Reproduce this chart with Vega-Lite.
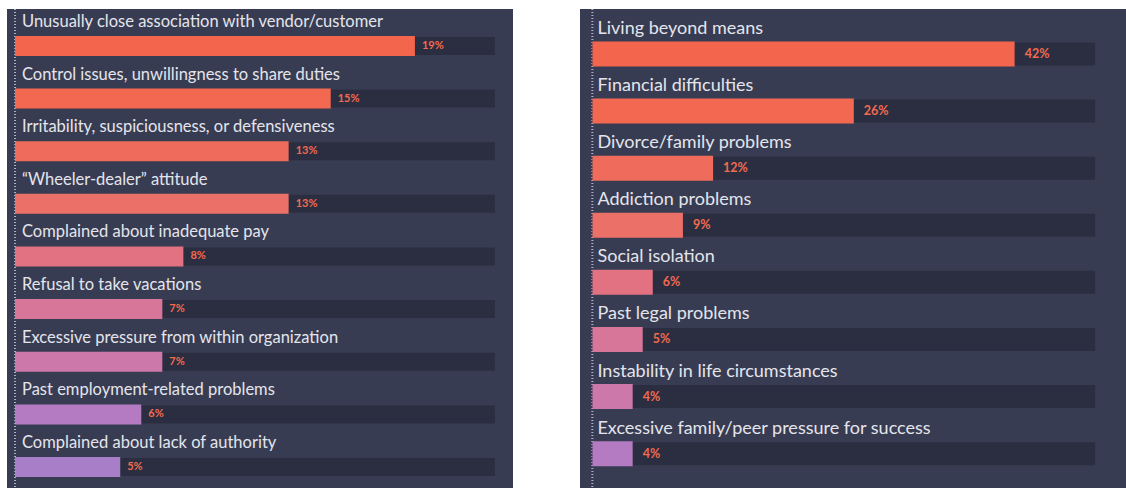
{
  "$schema": "https://vega.github.io/schema/vega-lite/v6.json",
  "background": "#ffffff",
  "padding": {"left": 7, "top": 8, "right": 0, "bottom": 0},
  "spacing": 67,
  "bounds": "flush",
  "config": {"view": {"stroke": null}, "axis": {"disable": true}},
  "hconcat": [
    {
      "width": 506,
      "height": 480,
      "view": {"fill": "#383c52", "stroke": null},
      "data": {"values": [
        {"label": "Unusually close association with vendor/customer", "value": 0.19},
        {"label": "Control issues, unwillingness to share duties", "value": 0.15},
        {"label": "Irritability, suspiciousness, or defensiveness", "value": 0.13},
        {"label": "\u201cWheeler-dealer\u201d attitude", "value": 0.13},
        {"label": "Complained about inadequate pay", "value": 0.08},
        {"label": "Refusal to take vacations", "value": 0.07},
        {"label": "Excessive pressure from within organization", "value": 0.07},
        {"label": "Past employment-related problems", "value": 0.06},
        {"label": "Complained about lack of authority", "value": 0.05}
      ]},
      "layer": [
        {"mark": {"type": "rule", "color": "#aab0c8", "strokeDash": [1, 2], "strokeWidth": 1.2},
         "encoding": {"x": {"datum": 0, "type": "quantitative", "scale": {"domain": [-0.0038, 0.2366], "nice": false, "zero": false}}}},
        {"mark": {"type": "bar", "height": 18, "color": "#2b2e40"},
         "encoding": {
           "y": {"field": "label", "type": "nominal", "sort": null, "axis": null, "scale": {"type": "point", "padding": 0.56, "align": 0.627}},
           "x": {"datum": 0.228, "type": "quantitative"}, "x2": {"datum": 0}}},
        {"mark": {"type": "bar", "height": 20},
         "encoding": {
           "y": {"field": "label", "type": "nominal", "sort": null, "axis": null},
           "x": {"field": "value", "type": "quantitative"},
           "x2": {"datum": 0},
           "color": {"field": "label", "type": "nominal", "legend": null,
             "scale": {"domain": ["Unusually close association with vendor/customer", "Control issues, unwillingness to share duties", "Irritability, suspiciousness, or defensiveness", "\u201cWheeler-dealer\u201d attitude", "Complained about inadequate pay", "Refusal to take vacations", "Excessive pressure from within organization", "Past employment-related problems", "Complained about lack of authority"],
                       "range": ["#f3654d", "#f26850", "#ef6c5c", "#eb7068", "#e27282", "#d8769a", "#cc78aa", "#b57bc2", "#a97ec9"]}}
         }},
        {"mark": {"type": "text", "align": "left", "baseline": "alphabetic", "dx": 7, "dy": -19, "font": "Lato", "fontSize": 16.5, "color": "#e4e5ec"},
         "encoding": {
           "y": {"field": "label", "type": "nominal", "sort": null, "axis": null},
           "x": {"datum": 0, "type": "quantitative"}, "text": {"field": "label"}}},
        {"mark": {"type": "text", "align": "left", "baseline": "middle", "dx": 7, "font": "Lato", "fontSize": 11, "fontWeight": "bold", "color": "#f26a4f"},
         "encoding": {
           "y": {"field": "label", "type": "nominal", "sort": null, "axis": null},
           "x": {"field": "value", "type": "quantitative"}, "text": {"field": "value", "type": "quantitative", "format": ".0%"}}}
      ]
    },
    {
      "width": 546,
      "height": 480,
      "view": {"fill": "#383c52", "stroke": null},
      "data": {"values": [
        {"label": "Living beyond means", "value": 0.42},
        {"label": "Financial difficulties", "value": 0.26},
        {"label": "Divorce/family problems", "value": 0.12},
        {"label": "Addiction problems", "value": 0.09},
        {"label": "Social isolation", "value": 0.06},
        {"label": "Past legal problems", "value": 0.05},
        {"label": "Instability in life circumstances", "value": 0.04},
        {"label": "Excessive family/peer pressure for success", "value": 0.04}
      ]},
      "layer": [
        {"mark": {"type": "rule", "color": "#aab0c8", "strokeDash": [1, 2], "strokeWidth": 1.2},
         "encoding": {"x": {"datum": 0, "type": "quantitative", "scale": {"domain": [-0.0124, 0.5308], "nice": false, "zero": false}}}},
        {"mark": {"type": "bar", "height": 23, "color": "#2b2e40"},
         "encoding": {
           "y": {"field": "label", "type": "nominal", "sort": null, "axis": null, "scale": {"type": "point", "padding": 0.703, "align": 0.56}},
           "x": {"datum": 0.5, "type": "quantitative"}, "x2": {"datum": 0}}},
        {"mark": {"type": "bar", "height": 25},
         "encoding": {
           "y": {"field": "label", "type": "nominal", "sort": null, "axis": null},
           "x": {"field": "value", "type": "quantitative"},
           "x2": {"datum": 0},
           "color": {"field": "label", "type": "nominal", "legend": null,
             "scale": {"domain": ["Living beyond means", "Financial difficulties", "Divorce/family problems", "Addiction problems", "Social isolation", "Past legal problems", "Instability in life circumstances", "Excessive family/peer pressure for success"],
                       "range": ["#f3654d", "#f26850", "#f06c58", "#ec7069", "#e07388", "#d0789f", "#b57bc0", "#a87ec8"]}}
         }},
        {"mark": {"type": "text", "align": "left", "baseline": "alphabetic", "dx": 5, "dy": -20, "font": "Lato", "fontSize": 18, "color": "#e4e5ec"},
         "encoding": {
           "y": {"field": "label", "type": "nominal", "sort": null, "axis": null},
           "x": {"datum": 0, "type": "quantitative"}, "text": {"field": "label"}}},
        {"mark": {"type": "text", "align": "left", "baseline": "middle", "dx": 10, "font": "Lato", "fontSize": 12.5, "fontWeight": "bold", "color": "#f26a4f"},
         "encoding": {
           "y": {"field": "label", "type": "nominal", "sort": null, "axis": null},
           "x": {"field": "value", "type": "quantitative"}, "text": {"field": "value", "type": "quantitative", "format": ".0%"}}}
      ]
    }
  ]
}
